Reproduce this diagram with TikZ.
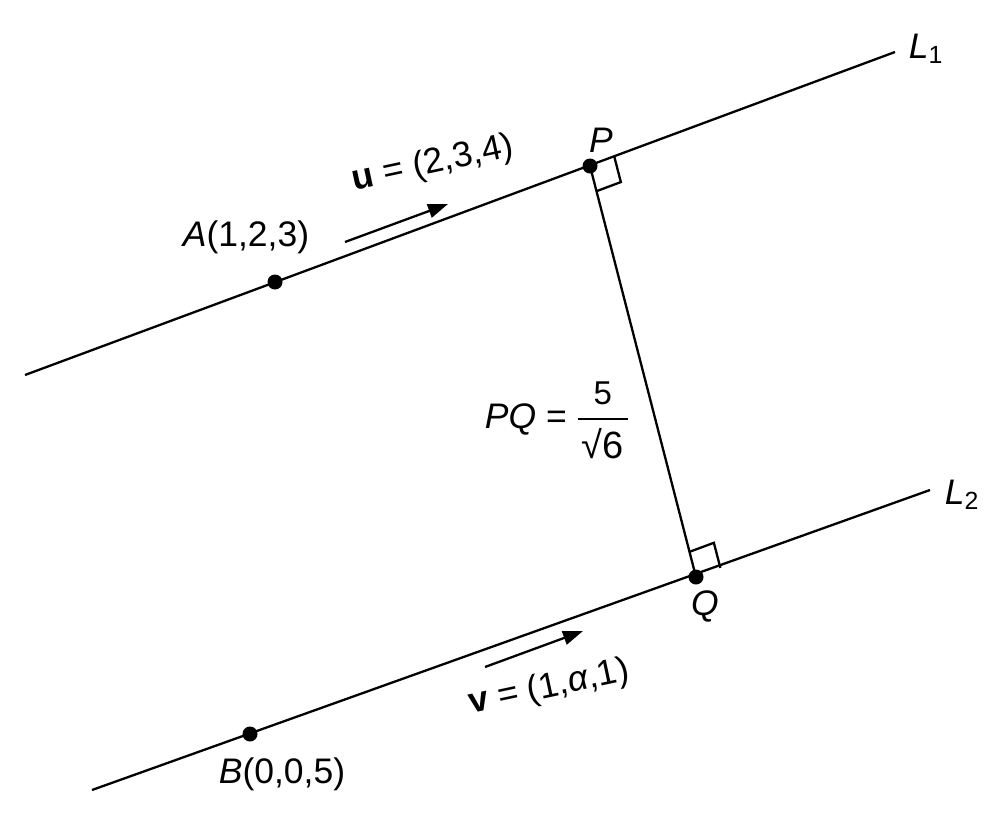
\documentclass[tikz,border=0pt]{standalone}
\usepackage{fix-cm}
\usepackage{amsmath}
\usepackage{fontspec}
\setmainfont{Liberation Sans}
\usetikzlibrary{arrows.meta,calc}
\begin{document}
\begin{tikzpicture}[x=1pt,y=-1pt, line width=2.3pt,
  lbl/.style={font=\fontsize{35.5}{42}\selectfont, inner sep=0pt},
  dot/.style={circle, fill=black, inner sep=0pt, minimum size=15pt},
  vecarrow/.style={-{Triangle[length=20pt,width=14pt]}, line width=2.3pt}]
\useasboundingbox (0,0) rectangle (1004,817);
\coordinate (L1s) at (25,375);
\coordinate (L1e) at (895,52);
\coordinate (L2s) at (92,790);
\coordinate (L2e) at (930,490);
\draw (L1s) -- (L1e);
\draw (L2s) -- (L2e);
\coordinate (Pc) at (590,166);
\coordinate (Qc) at (696,577);
\draw (Pc) -- (Qc);
% right angle marks
\coordinate (Pa) at ($(Pc)!26pt!(L1e)$);
\coordinate (Pb) at ($(Pc)!26pt!(Qc)$);
\draw (Pa) -- ($(Pa)+(Pb)-(Pc)$) -- (Pb);
\coordinate (Qa) at ($(Qc)!26pt!(L2e)$);
\coordinate (Qb) at ($(Qc)!26pt!(Pc)$);
\draw (Qa) -- ($(Qa)+(Qb)-(Qc)$) -- (Qb);
% points
\node[dot] (A) at (275,282) {};
\node[dot] (P) at (Pc) {};
\node[dot] (B) at (250,734) {};
\node[dot] (Q) at (Qc) {};
% direction arrows
\coordinate (u1) at (345,242);
\coordinate (u2) at (448,204);
\draw[vecarrow] (u1) -- (u2);
\coordinate (v1) at (485,667);
\coordinate (v2) at (583,631);
\draw[vecarrow] (v1) -- (v2);
% labels
\node[lbl] (Al) at (246,237) {\textit{A}(1,2,3)};
\node[lbl] (Bl) at (282,774) {\textit{B}(0,0,5)};
\node[lbl] (Pl) at (601,140) {\textit{P}};
\node[lbl] (Ql) at (705,606) {\textit{Q}};
\node[lbl] (L1l) at (926,49) {\textit{L}\textsubscript{1}};
\node[lbl] (L2l) at (962,495) {\textit{L}\textsubscript{2}};
\node[lbl, rotate=12] (ul) at (433,164) {\textbf{u} = (2,3,4)};
\node[lbl, rotate=12] (vl) at (549,688) {\textbf{v} = (1,\textit{α},1)};
\node[lbl] (PQl) at (557,420) {\textit{PQ} = $\genfrac{}{}{2.6pt}{0}{\text{\fontsize{33}{38}\selectfont 5}}{\kern4pt\text{\fontsize{38}{44}\selectfont √6}\kern4pt}$};
\end{tikzpicture}
\end{document}
